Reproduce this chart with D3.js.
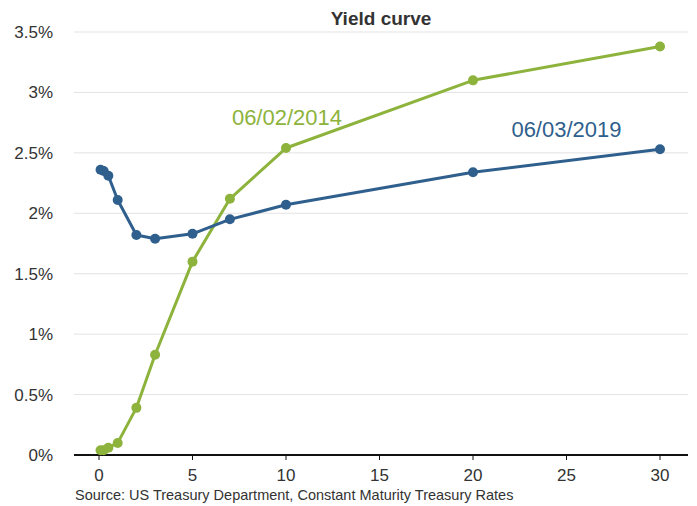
<!DOCTYPE html>
<html>
<head>
<meta charset="utf-8">
<script src="https://cdn.jsdelivr.net/npm/d3@7"></script>
<style>
  body { margin: 0; background: #fff; }
  svg { font-family: "Liberation Sans", Arial, sans-serif; }
</style>
</head>
<body>
<div id="chart"></div>
<script>
const maturities = [0.083, 0.25, 0.5, 1, 2, 3, 5, 7, 10, 20, 30];
const yields2014 = [0.04, 0.04, 0.06, 0.10, 0.39, 0.83, 1.60, 2.12, 2.54, 3.10, 3.38];
const yields2019 = [2.36, 2.35, 2.31, 2.11, 1.82, 1.79, 1.83, 1.95, 2.07, 2.34, 2.53];
const xTicks = [0, 5, 10, 15, 20, 25, 30];
const yTicks = [0, 0.5, 1, 1.5, 2, 2.5, 3, 3.5];
const seriesNames = ['06/02/2014', '06/03/2019'];

const color = { s2014: '#8db33c', s2019: '#2f5f8d', grid: '#e3e3e3', text: '#333' };

const W = 697, H = 506;
const svg = d3.select('#chart').append('svg').attr('width', W).attr('height', H);

const x = d3.scaleLinear().domain([0, 30]).range([99, 660]);
const y = d3.scaleLinear().domain([0, 3.5]).range([455, 32]);
const plotL = 74, plotR = 688;

// gridlines
svg.append('g').selectAll('line').data(yTicks.filter(d => d > 0)).join('line')
  .attr('x1', plotL).attr('x2', plotR)
  .attr('y1', d => y(d)).attr('y2', d => y(d))
  .attr('stroke', color.grid).attr('stroke-width', 1);

// y labels
const fmtPct = d => d3.format('~g')(d) + '%';
svg.append('g').selectAll('text').data(yTicks).join('text')
  .attr('x', 53).attr('y', d => y(d)).attr('dy', '0.35em')
  .attr('text-anchor', 'end').attr('font-size', 17).attr('fill', color.text)
  .text(fmtPct);

// x axis
const xAxisG = svg.append('g').attr('transform', 'translate(0,455)');
xAxisG.append('line').attr('x1', plotL).attr('x2', plotR).attr('stroke', '#111').attr('stroke-width', 2);
xAxisG.selectAll('line.tick').data(xTicks).join('line').attr('class', 'tick')
  .attr('x1', d => x(d)).attr('x2', d => x(d)).attr('y1', 0).attr('y2', 5)
  .attr('stroke', '#111').attr('stroke-width', 1);
xAxisG.selectAll('text').data(xTicks).join('text')
  .attr('x', d => x(d)).attr('y', 20).attr('dy', '0.35em')
  .attr('text-anchor', 'middle').attr('font-size', 17).attr('fill', color.text)
  .text(d => d);

// series
const line = d3.line().x(d => x(d[0])).y(d => y(d[1]));
const series = [
  { name: seriesNames[0], vals: yields2014, c: color.s2014 },
  { name: seriesNames[1], vals: yields2019, c: color.s2019 }
];
series.forEach(s => {
  const pts = maturities.map((m, i) => [m, s.vals[i]]);
  svg.append('path').datum(pts).attr('fill', 'none').attr('stroke', s.c)
    .attr('stroke-width', 3).attr('stroke-linejoin', 'round').attr('d', line);
  svg.append('g').selectAll('circle').data(pts).join('circle')
    .attr('cx', d => x(d[0])).attr('cy', d => y(d[1])).attr('r', 5).attr('fill', s.c);
});

// series labels
svg.append('text').attr('x', x(7) + 2).attr('y', 117).attr('dy', '0.35em')
  .attr('font-size', 22).attr('fill', color.s2014).text(seriesNames[0]);
svg.append('text').attr('x', x(22) + 1).attr('y', 129).attr('dy', '0.35em')
  .attr('font-size', 22).attr('fill', color.s2019).text(seriesNames[1]);

// title
svg.append('text').attr('x', 381).attr('y', 18).attr('dy', '0.35em')
  .attr('text-anchor', 'middle').attr('font-size', 19).attr('font-weight', 'bold')
  .attr('fill', color.text).text('Yield curve');

// source
svg.append('text').attr('x', 75).attr('y', 495).attr('dy', '0.35em')
  .attr('font-size', 14.5).attr('fill', color.text)
  .text('Source: US Treasury Department, Constant Maturity Treasury Rates');
</script>
</body>
</html>
